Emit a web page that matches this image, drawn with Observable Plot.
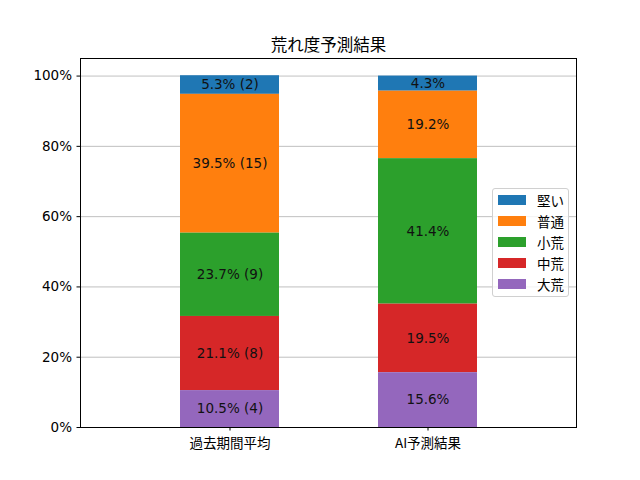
<!DOCTYPE html>
<html>
<head>
<meta charset="utf-8">
<script src="https://cdn.jsdelivr.net/npm/d3@7"></script>
<script src="https://cdn.jsdelivr.net/npm/@observablehq/plot@0.6"></script>
<style>
  body { margin: 0; background: #fff; }
  #wrap { position: relative; width: 640px; height: 480px; font-family: "DejaVu Sans", "Noto Sans CJK JP", sans-serif; }
  #legend { position: absolute; left: 492px; top: 188px; width: 77px; height: 109px; box-sizing: border-box;
    border: 1px solid #d0d0d0; border-radius: 3px; background: rgba(255,255,255,0.8); }
  .row { position: absolute; left: 0; height: 14px; display: flex; align-items: center; font-size: 13.5px; color: #000; font-family: "Noto Sans CJK JP", sans-serif; }
  .sw { width: 28px; height: 10px; margin-left: 5px; margin-right: 11px; }
</style>
</head>
<body>
<div id="wrap"><div id="legend"></div></div>
<script>
const categories = ["過去期間平均", "AI予測結果"];
const segments = ["堅い", "普通", "小荒", "中荒", "大荒"]; // legend order (top to bottom)
const colors = ["#1f77b4", "#ff7f0e", "#2ca02c", "#d62728", "#9467bd"];
const pastPct = [5.3, 39.5, 23.7, 21.1, 10.5];
const pastCount = [2, 15, 9, 8, 4];
const aiPct = [4.3, 19.2, 41.4, 19.5, 15.6];
const yTicks = [0, 20, 40, 60, 80, 100];

const data = [];
segments.forEach((s, i) => {
  data.push({cat: categories[0], seg: s, value: pastPct[i], label: `${pastPct[i].toFixed(1)}% (${pastCount[i]})`});
  data.push({cat: categories[1], seg: s, value: aiPct[i], label: `${aiPct[i].toFixed(1)}%`});
});
const stackOrder = segments.slice().reverse();

const chart = Plot.plot({
  width: 640,
  height: 480,
  marginLeft: 80,
  marginRight: 64,
  marginTop: 58,
  marginBottom: 53,
  style: {fontFamily: "'DejaVu Sans', 'Noto Sans CJK JP', sans-serif", fontSize: "13.5px", color: "#000", background: "transparent"},
  x: {domain: categories, padding: 0.5, paddingOuter: 0.5, label: null},
  y: {domain: [0, 105], label: null},
  color: {domain: segments, range: colors},
  marks: [
    Plot.ruleY(yTicks, {stroke: "#b0b0b0", strokeWidth: 0.8}),
    Plot.barY(data, Plot.stackY({x: "cat", y: "value", fill: "seg", order: stackOrder})),
    Plot.text(data, Plot.stackY({x: "cat", y: "value", z: "seg", order: stackOrder, text: "label", fill: "#111", fontSize: 13.5})),
    Plot.frame({stroke: "#000", strokeWidth: 1}),
    Plot.axisY({ticks: yTicks, tickFormat: d => d + "%", tickSize: 3.5, tickPadding: 5, label: null, fontSize: 13.5}),
    Plot.axisX({tickSize: 3.5, tickPadding: 7, label: null, fontSize: 13.5, fontFamily: "'Noto Sans CJK JP', sans-serif"}),
    Plot.text(["荒れ度予測結果"], {frameAnchor: "top", dy: -19, text: d => d, fontSize: 16.5, fill: "#000", fontFamily: "'Noto Sans CJK JP', sans-serif"})
  ]
});
document.getElementById("wrap").prepend(chart);

const legend = document.getElementById("legend");
segments.forEach((s, i) => {
  const row = document.createElement("div");
  row.className = "row";
  row.style.top = (4 + i * 21) + "px";
  const sw = document.createElement("div");
  sw.className = "sw";
  sw.style.background = colors[i];
  const t = document.createElement("span");
  t.textContent = s;
  row.appendChild(sw);
  row.appendChild(t);
  legend.appendChild(row);
});
</script>
</body>
</html>
